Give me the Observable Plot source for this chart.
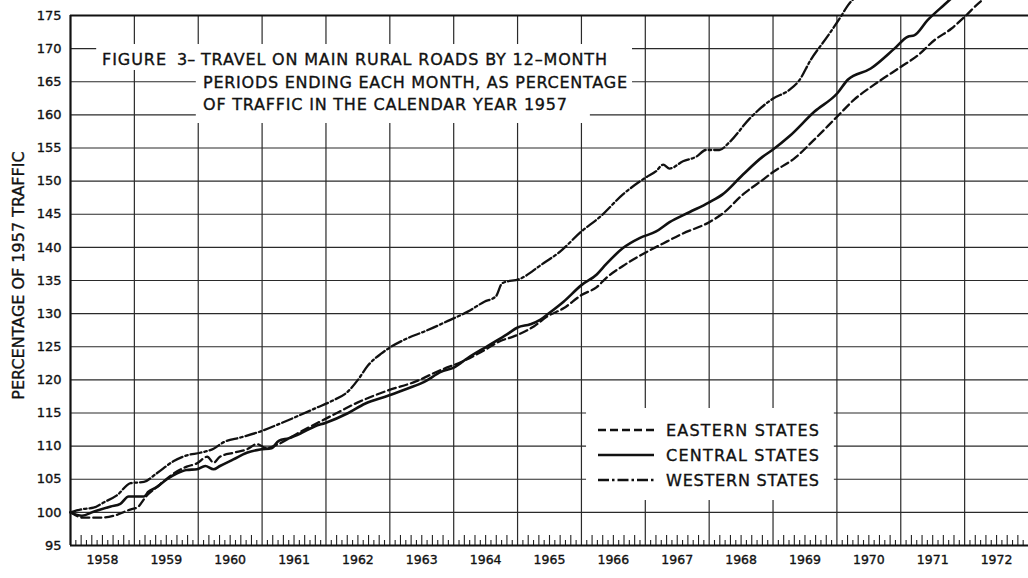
<!DOCTYPE html>
<html>
<head>
<meta charset="utf-8">
<script src="https://cdn.jsdelivr.net/npm/d3@7"></script>
<script src="https://cdn.jsdelivr.net/npm/@observablehq/plot@0.6"></script>
<style>
html,body{margin:0;padding:0;background:#fff;}
#chart svg{display:block;}
#chart svg text{stroke:#111;stroke-width:0.35px;}
</style>
</head>
<body>
<div id="chart"></div>
<script>
// ---------- data ----------
const yearLabels = ["1958","1959","1960","1961","1962","1963","1964","1965","1966","1967","1968","1969","1970","1971","1972"];
const yTicks = [95,100,105,110,115,120,125,130,135,140,145,150,155,160,165,170,175];

const seriesNames = ["EASTERN STATES","CENTRAL STATES","WESTERN STATES"];

const easternYears = [1958.00,1958.20,1958.47,1958.68,1958.96,1959.04,1959.20,1959.35,1959.51,1959.67,1959.82,1959.98,1960.14,1960.24,1960.34,1960.55,1960.76,1960.92,1961.07,1961.23,1961.57,1962.09,1962.50,1962.97,1963.39,1963.80,1964.12,1964.43,1964.74,1964.95,1965.26,1965.47,1965.72,1966.00,1966.24,1966.39,1966.65,1967.00,1967.28,1967.59,1968.00,1968.21,1968.53,1968.84,1968.99,1969.33,1969.65,1970.01,1970.27,1970.59,1971.01,1971.27,1971.53,1971.79,1972.00,1972.26,1972.52];
const easternValues = [100.0,99.2,99.2,99.5,100.5,100.7,102.6,103.8,105.1,106.2,106.9,107.4,108.4,107.5,108.4,109.0,109.5,110.3,109.7,110.2,112.0,114.6,116.6,118.4,119.7,121.5,122.7,124.2,125.9,126.6,128.1,129.6,130.8,132.8,134.0,135.4,137.2,139.2,140.6,142.1,143.8,145.1,148.0,150.2,151.3,153.4,156.3,159.8,162.3,164.6,167.3,169.0,171.3,173.0,174.8,177.2,178.7];

const centralYears = [1958.00,1958.18,1958.36,1958.63,1958.78,1958.91,1959.15,1959.22,1959.35,1959.51,1959.67,1959.82,1959.98,1960.11,1960.24,1960.34,1960.55,1960.76,1960.97,1961.15,1961.26,1961.42,1961.62,1961.83,1961.99,1962.35,1962.61,1962.97,1963.28,1963.54,1963.80,1964.01,1964.22,1964.53,1964.84,1965.00,1965.20,1965.36,1965.47,1965.72,1966.00,1966.24,1966.39,1966.65,1966.91,1967.17,1967.38,1967.69,1968.00,1968.21,1968.53,1968.84,1968.99,1969.26,1969.65,1970.01,1970.17,1970.53,1970.90,1971.11,1971.21,1971.42,1971.69,1971.92];
const centralValues = [100.0,99.5,100.1,100.9,101.3,102.4,102.4,103.1,103.8,105.0,105.9,106.4,106.5,107.0,106.5,107.0,108.0,109.0,109.5,109.7,110.8,111.2,112.0,113.0,113.5,115.0,116.4,117.6,118.7,119.7,121.2,121.9,123.3,125.1,126.9,127.9,128.4,129.1,129.9,131.8,134.3,135.9,137.5,139.9,141.4,142.4,143.8,145.3,146.8,148.0,151.0,153.7,154.7,156.8,160.5,163.3,165.3,167.0,170.0,171.8,172.0,174.3,176.7,178.7];

const westernYears = [1958.00,1958.20,1958.36,1958.52,1958.73,1958.94,1959.15,1959.35,1959.61,1959.82,1960.03,1960.24,1960.40,1960.66,1960.97,1961.28,1961.55,1961.83,1962.09,1962.35,1962.50,1962.66,1962.87,1963.02,1963.28,1963.54,1963.91,1964.22,1964.48,1964.66,1964.76,1965.05,1965.36,1965.67,1966.00,1966.29,1966.65,1967.00,1967.17,1967.28,1967.38,1967.59,1967.80,1967.95,1968.16,1968.32,1968.63,1968.99,1969.26,1969.41,1969.59,1969.85,1970.06,1970.17,1970.46];
const westernValues = [100.0,100.5,100.7,101.5,102.6,104.4,104.6,105.9,107.7,108.6,109.0,109.6,110.6,111.3,112.2,113.4,114.5,115.7,116.8,118.3,120.0,122.2,124.0,125.0,126.3,127.3,128.9,130.3,131.8,132.6,134.6,135.3,137.3,139.4,142.4,144.6,148.0,150.5,151.5,152.5,151.9,153.0,153.7,154.7,154.7,155.9,159.4,162.4,163.8,165.2,168.3,171.8,174.8,176.5,178.7];

const titleLead = ["FIGURE", "3–"];
const titleLines = ["TRAVEL ON MAIN RURAL ROADS BY 12–MONTH","PERIODS ENDING EACH MONTH, AS PERCENTAGE","OF TRAFFIC IN THE CALENDAR YEAR 1957"];
const yTitle = "PERCENTAGE OF 1957 TRAFFIC";

// ---------- build ----------
const W = 1028, H = 578;
const mT = 15, mB = 33, mL = 70, mR = 0;
const pxPerUnit = (H - mT - mB) / 80;
const mk = (ys, vs) => ys.map((t, i) => ({t, v: vs[i]}));
const eastern = mk(easternYears, easternValues);
const central = mk(centralYears, centralValues);
const western = mk(westernYears, westernValues);

const gridY = yTicks.filter(v => v > 95 && v < 175);
const gridX = yearLabels.slice(1).map(Number);
const monthTicks = [];
yearLabels.forEach(y => {
  for (let m = 1; m < 12; m++) monthTicks.push({t: +y + m / 12, len: (m % 2 === 0 ? 10 : 5) / pxPerUnit});
});

// white areas behind title and legend (layout, in chart units)
const masks = [
  {x1: 1958.41, x2: 1966.80, y1: 166.70, y2: 170.62},
  {x1: 1959.97, x2: 1966.80, y1: 162.17, y2: 166.70},
  {x1: 1959.97, x2: 1966.14, y1: 158.70, y2: 162.17},
  {x1: 1966.08, x2: 1969.96, y1: 101.79, y2: 115.68}
];

const ink = "#111";
const gridInk = "#2a2a2a";
const styles = [
  {dash: "8,4", width: 2.3},
  {dash: null, width: 2.6},
  {dash: "11,3,2.5,3", width: 2.3}
];

const plot = Plot.plot({
  width: W, height: H,
  marginLeft: mL, marginRight: mR, marginTop: mT, marginBottom: mB,
  x: {domain: [1958, 1973], axis: null},
  y: {domain: [95, 175], axis: null},
  style: {fontFamily: "'DejaVu Sans', sans-serif", background: "#fff", color: ink},
  marks: [
    Plot.ruleY(gridY, {stroke: gridInk, strokeWidth: 1.2}),
    Plot.ruleX(gridX, {y1: 95, y2: 175, stroke: gridInk, strokeWidth: 1.2}),
    Plot.rect(masks, {x1: "x1", x2: "x2", y1: "y1", y2: "y2", fill: "#fff"}),
    Plot.ruleX(monthTicks, {x: "t", y1: 95, y2: d => 95 + d.len, stroke: "#222", strokeWidth: 1.1}),
    Plot.ruleY([175], {stroke: ink, strokeWidth: 1.8}),
    Plot.ruleY([95], {stroke: ink, strokeWidth: 2.2}),
    Plot.ruleX([1958], {y1: 95, y2: 175, stroke: ink, strokeWidth: 2.2}),
    Plot.line(eastern, {x: "t", y: "v", stroke: ink, strokeWidth: styles[0].width, strokeDasharray: styles[0].dash, curve: "monotone-x"}),
    Plot.line(central, {x: "t", y: "v", stroke: ink, strokeWidth: styles[1].width, curve: "monotone-x"}),
    Plot.line(western, {x: "t", y: "v", stroke: ink, strokeWidth: styles[2].width, strokeDasharray: styles[2].dash, curve: "monotone-x"}),
    Plot.axisY({ticks: yTicks, tickSize: 0, tickPadding: 9, fontSize: 13, label: null, fill: ink}),
    Plot.text(yearLabels, {x: (d, i) => 1958.5 + i, y: 95, dy: 14, fontSize: 12.5, text: d => d, fill: ink}),
    Plot.text([yTitle], {frameAnchor: "left", textAnchor: "middle", rotate: -90, dx: -52, dy: -5, fontSize: 16, text: d => d, fill: ink})
  ]
});
document.getElementById("chart").appendChild(plot);

// ---------- title and legend annotations ----------
const svg = d3.select(plot);
const g = svg.append("g")
  .attr("font-family", "'DejaVu Sans', sans-serif")
  .attr("font-size", 16)
  .attr("text-anchor", "start")
  .attr("fill", ink);
g.append("text").attr("x", 102).attr("y", 65).attr("textLength", 64).attr("lengthAdjust", "spacing").text(titleLead[0]);
g.append("text").attr("x", 177).attr("y", 65).text(titleLead[1]);
const titleX = [201, 203, 203], titleY = [65, 88, 110], titleLen = [406, 424, 364];
titleLines.forEach((s, i) => {
  g.append("text").attr("x", titleX[i]).attr("y", titleY[i])
    .attr("textLength", titleLen[i]).attr("lengthAdjust", "spacing").text(s);
});
const legY = [430, 455, 480];
seriesNames.forEach((s, i) => {
  const ln = g.append("line").attr("x1", 598).attr("x2", 654).attr("y1", legY[i]).attr("y2", legY[i])
    .attr("stroke", ink).attr("stroke-width", styles[i].width);
  if (styles[i].dash) ln.attr("stroke-dasharray", styles[i].dash);
  g.append("text").attr("x", 666).attr("y", legY[i] + 6)
    .attr("textLength", 153).attr("lengthAdjust", "spacing").text(s);
});
</script>
</body>
</html>
